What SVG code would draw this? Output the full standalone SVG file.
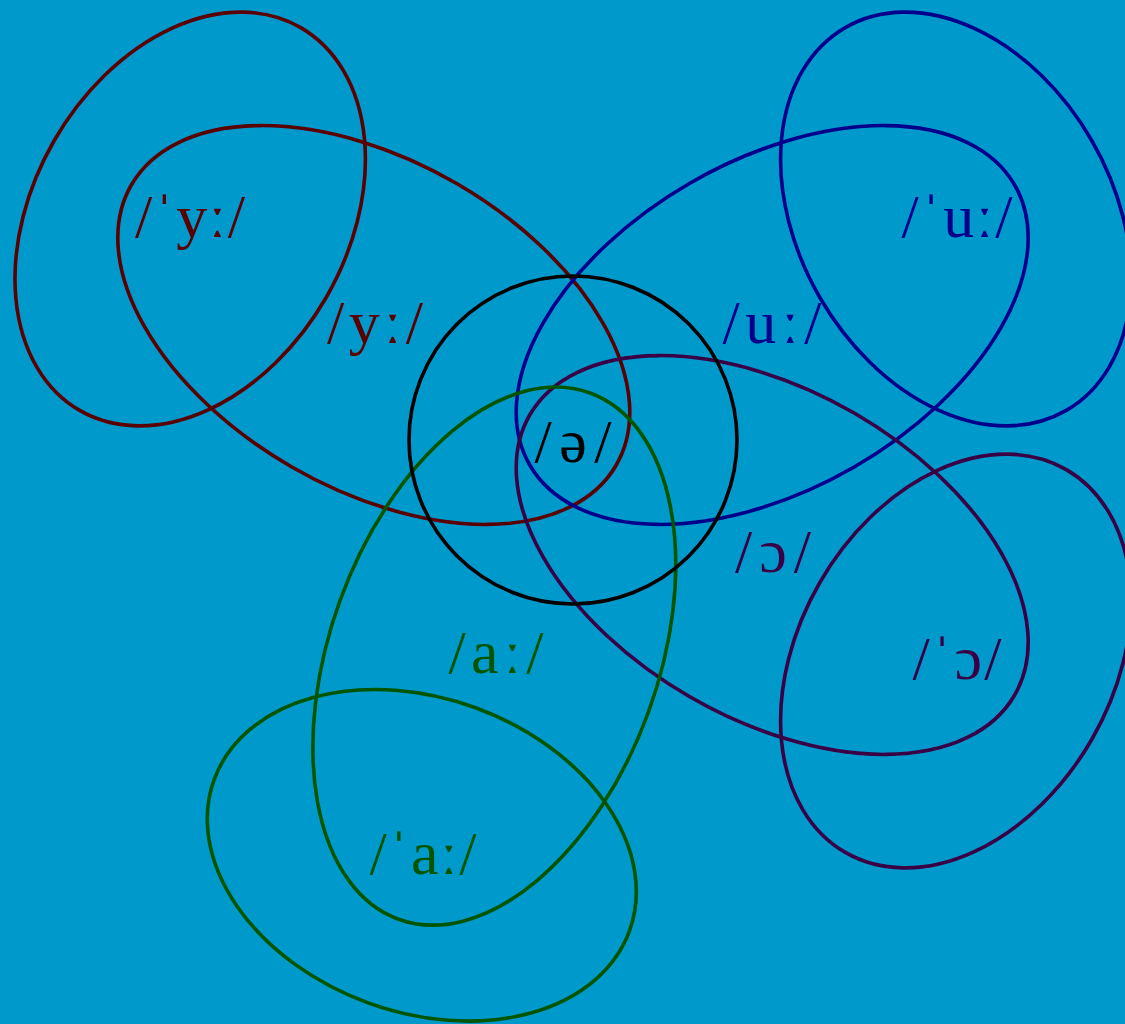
<svg xmlns="http://www.w3.org/2000/svg" width="1125" height="1024" viewBox="0 0 1125 1024">
<style>
  .e { fill: none; stroke-width: 3.6; }
  .t { font-family: "Liberation Serif", "DejaVu Serif", serif; font-size: 62px; text-anchor: middle; }
  .red { stroke: #5a0000; } .redt { fill: #5a0000; }
  .blue { stroke: #00008b; } .bluet { fill: #00008b; }
  .pur { stroke: #3a0045; } .purt { fill: #3a0045; }
  .grn { stroke: #005500; } .grnt { fill: #005500; }
  .blk { stroke: #000000; } .blkt { fill: #000000; }
</style>
<rect x="0" y="0" width="1125" height="1024" fill="#0099cc"/>
<g id="y-stressed">
  <ellipse class="e red" cx="190.2" cy="219" rx="221" ry="157" transform="rotate(-60 190.2 219)"/>
  <text class="t redt" x="190" y="237" textLength="110" lengthAdjust="spacing">/ˈyː/</text>
</g>
<g id="y">
  <ellipse class="e red" cx="373.8" cy="325" rx="280" ry="164" transform="rotate(30 373.8 325)"/>
  <text class="t redt" x="375" y="343" textLength="96" lengthAdjust="spacing">/yː/</text>
</g>
<g id="u">
  <ellipse class="e blue" cx="772.2" cy="325" rx="280" ry="164" transform="rotate(-30 772.2 325)"/>
  <text class="t bluet" x="772" y="343" textLength="99" lengthAdjust="spacing">/uː/</text>
</g>
<g id="u-stressed">
  <ellipse class="e blue" cx="955.8" cy="219" rx="221" ry="157" transform="rotate(60 955.8 219)"/>
  <text class="t bluet" x="957" y="237" textLength="111" lengthAdjust="spacing">/ˈuː/</text>
</g>
<g id="o">
  <ellipse class="e pur" cx="772.2" cy="555" rx="280" ry="164" transform="rotate(30 772.2 555)"/>
  <text class="t purt" x="773" y="572" textLength="76" lengthAdjust="spacing">/ɔ/</text>
</g>
<g id="o-stressed">
  <ellipse class="e pur" cx="955.8" cy="661" rx="221" ry="157" transform="rotate(-60 955.8 661)"/>
  <text class="t purt" x="957" y="679" textLength="89" lengthAdjust="spacing">/ˈɔ/</text>
</g>
<g id="a">
  <ellipse class="e grn" cx="494.3" cy="656.1" rx="280" ry="164" transform="rotate(110 494.3 656.1)"/>
  <text class="t grnt" x="496" y="673" textLength="95" lengthAdjust="spacing">/aː/</text>
</g>
<g id="a-stressed">
  <ellipse class="e grn" cx="421.8" cy="855.3" rx="221" ry="157" transform="rotate(20 421.8 855.3)"/>
  <text class="t grnt" x="423" y="874" textLength="107" lengthAdjust="spacing">/ˈaː/</text>
</g>
<g id="schwa">
  <circle class="e blk" cx="573" cy="440" r="164"/>
  <text class="t blkt" x="573" y="462" textLength="77" lengthAdjust="spacing">/ə/</text>
</g>
</svg>
